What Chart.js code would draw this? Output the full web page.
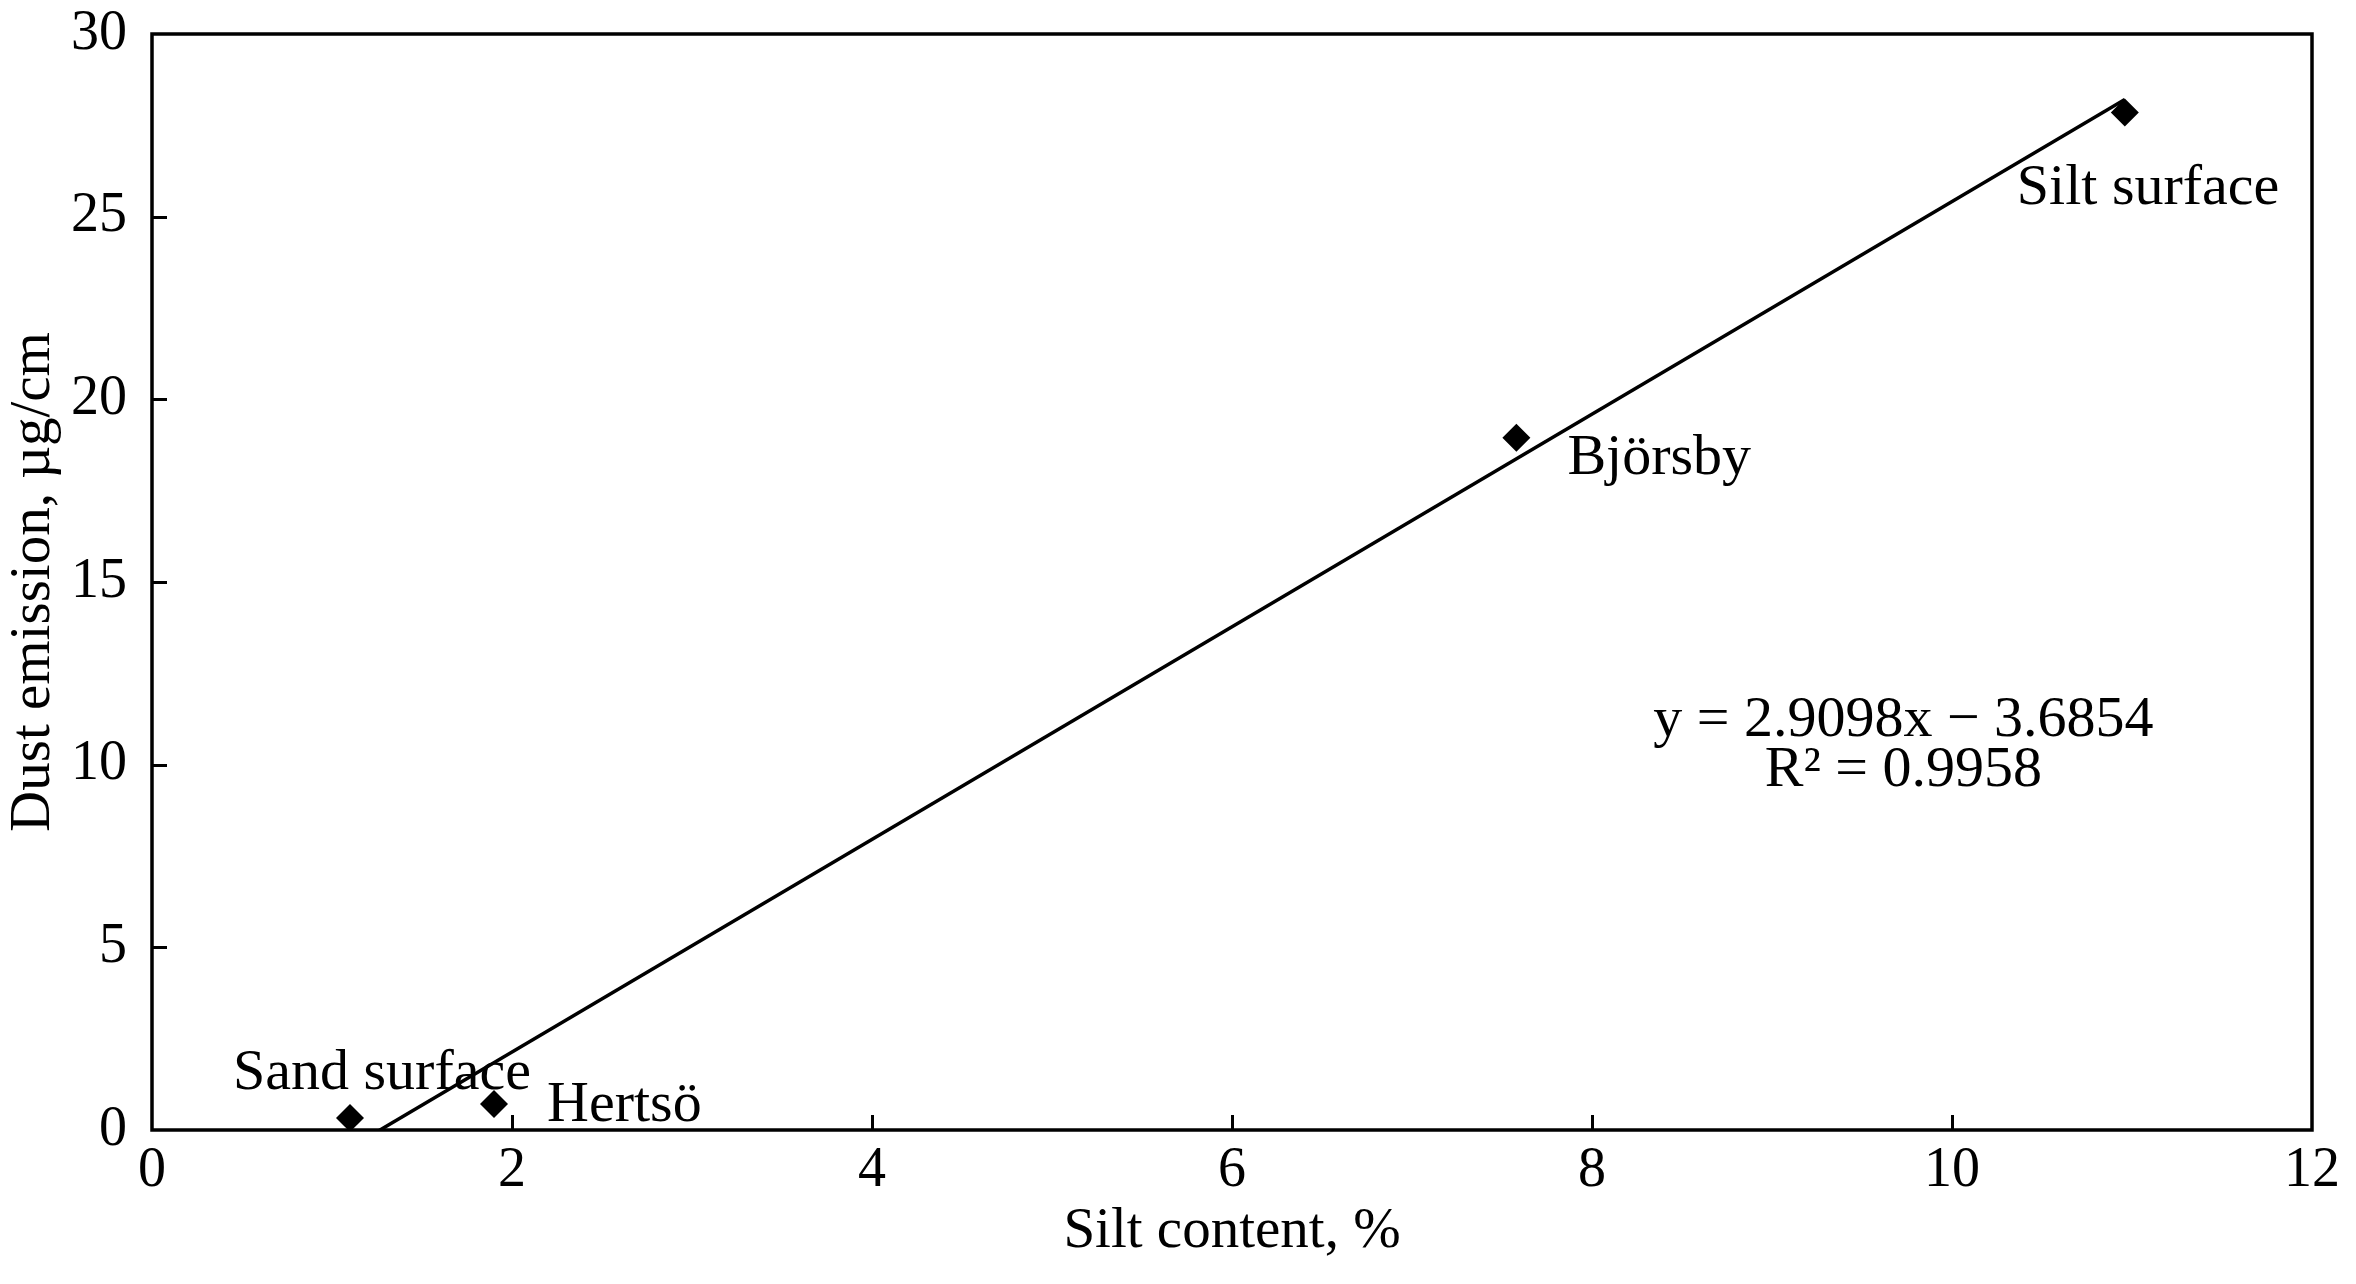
<!DOCTYPE html>
<html><head><meta charset="utf-8">
<script src="https://cdn.jsdelivr.net/npm/chart.js@4/dist/chart.umd.min.js"></script>
<style>html,body{margin:0;padding:0;background:#fff;} #wrap{width:2356px;height:1284px;position:relative;} canvas{display:block;}</style>
</head><body><div id="wrap"><canvas id="c" width="2356" height="1284" style="width:2356px;height:1284px"></canvas></div>
<script>
// ---- data ----
const siteNames = ["Sand surface", "Hertsö", "Björsby", "Silt surface"];
const siltContent = [1.10, 1.90, 7.58, 10.96];
const dustEmission = [0.33, 0.71, 18.95, 27.85];
const trendSlope = 2.9098;
const trendIntercept = -3.6854;
const rSquared = 0.9958;
const xTicks = [0, 2, 4, 6, 8, 10, 12];
const yTicks = [0, 5, 10, 15, 20, 25, 30];
const xTitle = "Silt content, %";
const yTitle = "Dust emission, µg/cm";
const equationText = "y = 2.9098x − 3.6854";
const r2Text = "R² = 0.9958";

// ---- build ----
const FONT = "'Liberation Serif', 'Times New Roman', serif";
const FS = 58;      // annotation text
const FS_TICK = 56; // tick labels
const FS_TITLE = 57; // axis titles
const pts = siteNames.map((n, i) => ({x: siltContent[i], y: dustEmission[i]}));
const xMin = Math.min(...siltContent), xMax = Math.max(...siltContent);
const trend = [xMin, xMax].map(x => ({x, y: trendSlope * x + trendIntercept}));

const labelOffsets = [[-117, -44], [53, 2], [51, 21], [-108, 76]];

const framePlugin = {
  id: 'frame',
  afterDraw(chart) {
    const {ctx, chartArea: a, scales: {x, y}} = chart;
    ctx.save();
    ctx.strokeStyle = '#000';
    ctx.lineWidth = 3.5;
    ctx.strokeRect(a.left, a.top, a.right - a.left, a.bottom - a.top);
    ctx.lineWidth = 3;
    ctx.beginPath();
    xTicks.slice(1, -1).forEach(v => {
      const p = Math.round(x.getPixelForValue(v)) + 0.5;
      ctx.moveTo(p, a.bottom); ctx.lineTo(p, a.bottom - 15);
    });
    yTicks.slice(1, -1).forEach(v => {
      const p = Math.round(y.getPixelForValue(v)) + 0.5;
      ctx.moveTo(a.left, p); ctx.lineTo(a.left + 15, p);
    });
    ctx.stroke();
    // point labels
    ctx.fillStyle = '#000';
    ctx.font = FS + "px " + FONT;
    ctx.textBaseline = 'middle';
    ctx.textAlign = 'left';
    siteNames.forEach((n, i) => {
      const px = x.getPixelForValue(siltContent[i]);
      const py = y.getPixelForValue(dustEmission[i]);
      ctx.fillText(n, px + labelOffsets[i][0], py + labelOffsets[i][1]);
    });
    // equation
    ctx.textAlign = 'center';
    const ex = x.getPixelForValue(9.73), ey = y.getPixelForValue(11.2);
    ctx.fillText(equationText, ex, ey);
    ctx.fillText(r2Text, ex, ey + 50);
    ctx.restore();
  }
};

new Chart(document.getElementById('c'), {
  type: 'scatter',
  data: {
    datasets: [
      {
        label: 'trend', data: trend, showLine: true, borderColor: '#000', borderWidth: 3.5,
        pointRadius: 0, pointHoverRadius: 0, fill: false, order: 2
      },
      {
        label: 'sites', data: pts, pointStyle: 'rectRot', pointRadius: 14, pointHoverRadius: 14,
        backgroundColor: '#000', borderColor: '#000', borderWidth: 0, order: 1
      }
    ]
  },
  options: {
    responsive: false,
    animation: false,
    devicePixelRatio: 1,
    layout: {padding: {left: 0, top: 34, right: 44, bottom: 0}},
    plugins: {legend: {display: false}, tooltip: {enabled: false}},
    scales: {
      x: {
        type: 'linear', min: 0, max: 12,
        afterBuildTicks: s => { s.ticks = xTicks.map(v => ({value: v})); },
        afterFit: s => { s.height = 154; s.paddingLeft = 0; s.paddingRight = 0; },
        grid: {display: false, drawTicks: false},
        border: {display: false},
        ticks: {color: '#000', padding: 8, font: {family: FONT, size: FS_TICK}},
        title: {display: true, text: xTitle, color: '#000', padding: {top: 0, bottom: 18}, font: {family: FONT, size: FS_TITLE}}
      },
      y: {
        type: 'linear', min: 0, max: 30,
        afterBuildTicks: s => { s.ticks = yTicks.map(v => ({value: v})); },
        afterFit: s => { s.width = 152; s.paddingTop = 0; s.paddingBottom = 0; },
        grid: {display: false, drawTicks: false},
        border: {display: false},
        ticks: {color: '#000', padding: 25, font: {family: FONT, size: FS_TICK}},
        title: {display: true, text: yTitle, color: '#000', padding: {top: 0, bottom: 0}, font: {family: FONT, size: FS_TITLE}}
      }
    }
  },
  plugins: [framePlugin]
});
</script>
</body></html>
